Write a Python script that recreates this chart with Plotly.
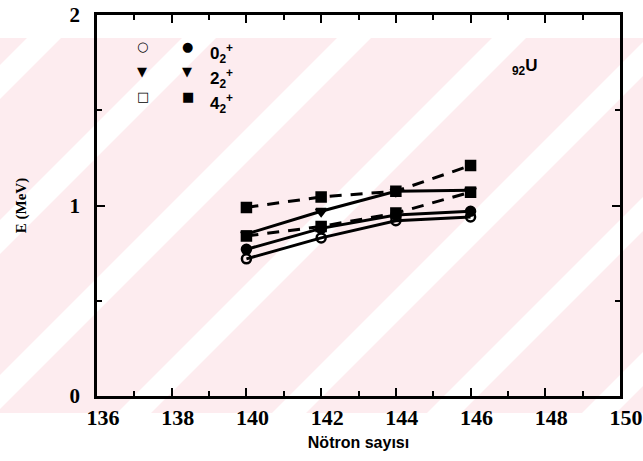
import plotly.graph_objects as go

# ---- data ----
neutrons = [140, 142, 144, 146]
s_open_circle = [0.72, 0.83, 0.92, 0.94]      # solid
s_filled_circle = [0.77, 0.88, 0.95, 0.97]    # solid
s_upper_solid = [0.85, 0.97, 1.075, 1.08]     # solid
d_filled_square = [0.99, 1.045, 1.075, 1.21]  # dashed
d_middle = [0.84, 0.89, 0.96, 1.07]           # dashed

x_ticks = [136, 138, 140, 142, 144, 146, 148, 150]
x_ticktext = [str(v) for v in x_ticks]
y_ticks = [0, 1, 2]
y_ticktext = ["0", "1", "2"]

W, H = 643, 461
L, R, T, B = 97, 23, 15, 65
PW, PH = W - L - R, H - T - B

def px(xp):
    return (xp - L) / PW

def py(yp):
    return (H - B - yp) / PH

fig = go.Figure()

series = [
    (s_open_circle, "circle-open", "solid"),
    (s_filled_circle, "circle", "solid"),
    (s_upper_solid, "triangle-down", "solid"),
    (d_filled_square, "square", "12px,9px"),
    (d_middle, "square", "12px,9px"),
]
for vals, sym, dash in series:
    fig.add_trace(go.Scatter(
        x=neutrons, y=vals, mode="lines+markers",
        line=dict(color="black", width=3, dash=dash),
        marker=dict(symbol=sym, size=9, color="black",
                    line=dict(color="black", width=2.5)),
        showlegend=False, cliponaxis=False))

# ---- watermark-like background stripes ----
shapes = [dict(type="rect", xref="paper", yref="paper", layer="below",
               x0=px(0), x1=px(W), y0=py(413), y1=py(38),
               fillcolor="#fdecef", line=dict(width=0))]
for c in [65, 220, 375, 530, 685, 840, 995, 1150]:
    w = 34
    pts = [(c - 413, 413), (c + w - 413, 413), (c + w - 38, 38), (c - 38, 38)]
    path = "M " + " L ".join(f"{px(a):.4f},{py(b):.4f}" for a, b in pts) + " Z"
    shapes.append(dict(type="path", xref="paper", yref="paper", layer="below",
                       path=path, fillcolor="white", line=dict(width=0)))

annotations = []
# legend
rows = [(37, "○", "●", "0<sub>2</sub><sup>+</sup>"),
        (62, "▼", "▼", "2<sub>2</sub><sup>+</sup>"),
        (87, "□", "■", "4<sub>2</sub><sup>+</sup>")]
for yp, o, f, t in rows:
    annotations.append(dict(x=px(135), y=py(yp), xref="paper", yref="paper",
                            text=o, showarrow=False,
                            font=dict(family="DejaVu Sans", size=13, color="black", weight="bold")))
    annotations.append(dict(x=px(180), y=py(yp), xref="paper", yref="paper",
                            text=f, showarrow=False,
                            font=dict(family="DejaVu Sans", size=13, color="black")))
    annotations.append(dict(x=px(208), y=py(yp + 2), xref="paper", yref="paper",
                            text=t, showarrow=False, xanchor="left",
                            font=dict(family="Liberation Sans", size=17, color="black", weight="bold")))
annotations.append(dict(x=px(540), y=py(54), xref="paper", yref="paper",
                        text="<sub>92</sub>U", showarrow=False,
                        font=dict(family="Liberation Sans", size=17, color="black", weight="bold")))

fig.update_layout(
    width=W, height=H,
    margin=dict(l=L, r=R, t=T, b=B, autoexpand=False),
    paper_bgcolor="white", plot_bgcolor="rgba(0,0,0,0)",
    shapes=shapes, annotations=annotations,
    xaxis=dict(range=[136, 150], tickvals=x_ticks, ticktext=x_ticktext,
               automargin=False,
               ticks="inside", ticklen=8, tickwidth=2, tickcolor="black",
               minor=dict(dtick=1, tick0=136, ticks="inside", ticklen=5,
                          tickwidth=2, tickcolor="black"),
               showline=True, linewidth=2.5, linecolor="black", mirror="allticks",
               showgrid=False, zeroline=False, ticklabelshift=6,
               ticklabeloverflow="allow",
               tickfont=dict(family="Liberation Serif", size=22, color="black", weight="bold"),
               title=dict(text="Nötron sayısı", standoff=8,
                          font=dict(family="Liberation Sans", size=16, color="black", weight="bold"))),
    yaxis=dict(range=[0, 2], tickvals=y_ticks, ticktext=y_ticktext,
               automargin=False,
               ticks="inside", ticklen=8, tickwidth=2, tickcolor="black",
               minor=dict(dtick=0.5, ticks="inside", ticklen=5,
                          tickwidth=2, tickcolor="black"),
               showline=True, linewidth=2.5, linecolor="black", mirror="allticks",
               showgrid=False, zeroline=False, ticklabelstandoff=10,
               tickfont=dict(family="Liberation Serif", size=21, color="black", weight="bold"),
               title=dict(text="E (MeV)", standoff=40,
                          font=dict(family="Liberation Serif", size=15, color="black", weight="bold"))),
)

fig.write_html("out.html")
